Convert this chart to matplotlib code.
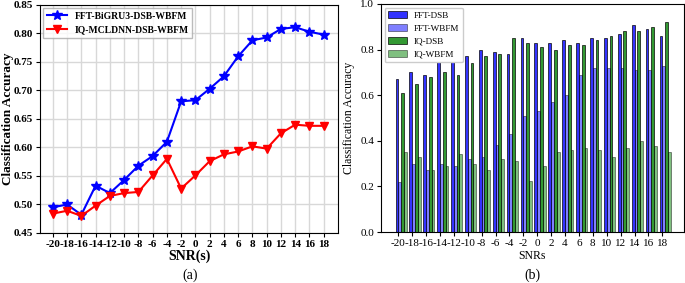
import numpy as np
import matplotlib
matplotlib.use('Agg')
import matplotlib.pyplot as plt

plt.rcParams['font.family'] = ['Liberation Serif', 'DejaVu Serif']

# 데이터
snr = [-20, -18, -16, -14, -12, -10, -8, -6, -4, -2, 0, 2, 4, 6, 8, 10, 12, 14, 16, 18]
snr_labels = [str(s) for s in snr]

fft_bigru = [0.495, 0.500, 0.482, 0.533, 0.520, 0.543, 0.568, 0.585, 0.610, 0.681,
             0.683, 0.703, 0.725, 0.760, 0.788, 0.793, 0.808, 0.811, 0.803, 0.798]
iq_mcldnn = [0.484, 0.489, 0.480, 0.498, 0.515, 0.520, 0.522, 0.551, 0.580, 0.528,
             0.551, 0.576, 0.588, 0.593, 0.602, 0.598, 0.625, 0.640, 0.638, 0.638]

fft_dsb = [0.67, 0.70, 0.69, 0.76, 0.75, 0.77, 0.80, 0.79, 0.78, 0.85,
           0.83, 0.83, 0.84, 0.83, 0.85, 0.85, 0.87, 0.91, 0.89, 0.86]
fft_wbfm = [0.22, 0.30, 0.27, 0.30, 0.29, 0.32, 0.33, 0.38, 0.43, 0.51,
            0.53, 0.57, 0.60, 0.69, 0.72, 0.72, 0.72, 0.71, 0.71, 0.73]
iq_dsb = [0.61, 0.65, 0.68, 0.70, 0.69, 0.74, 0.77, 0.78, 0.85, 0.83,
          0.81, 0.80, 0.82, 0.82, 0.84, 0.86, 0.88, 0.88, 0.90, 0.92]
iq_wbfm = [0.35, 0.33, 0.27, 0.29, 0.34, 0.30, 0.27, 0.32, 0.31, 0.225,
           0.29, 0.35, 0.36, 0.37, 0.36, 0.33, 0.37, 0.40, 0.375, 0.35]

fig = plt.figure(figsize=(6.85, 2.83), dpi=100)

# (a) 선 그래프
ax1 = fig.add_axes([0.0584, 0.1767, 0.435, 0.8057])
ax1.plot(snr, fft_bigru, color='blue', marker='*', markersize=7, linewidth=1.5,
         label='FFT-BiGRU3-DSB-WBFM')
ax1.plot(snr, iq_mcldnn, color='red', marker='v', markersize=6, linewidth=1.5,
         label='IQ-MCLDNN-DSB-WBFM')
ax1.set_xlim(-21.8, 20)
ax1.set_ylim(0.45, 0.85)
ax1.set_xticks(snr)
ax1.set_xticklabels(snr_labels)
ax1.set_yticks(np.arange(0.45, 0.851, 0.05))
ax1.set_yticklabels(['%.2f' % v for v in np.arange(0.45, 0.851, 0.05)])
ax1.grid(True, color='#d8d8d8', linewidth=1)
ax1.set_axisbelow(True)
for lab in ax1.get_xticklabels() + ax1.get_yticklabels():
    lab.set_fontweight('bold')
    lab.set_fontsize(8)
ax1.tick_params(length=3, pad=2)
ax1.set_ylabel('Classification Accuracy', fontsize=9.5, fontweight='bold')
ax1.yaxis.set_label_coords(-0.088, 0.5)
ax1.legend(loc='upper left', prop={'weight': 'bold', 'size': 6.9},
           fancybox=False, edgecolor='#aaaaaa', handlelength=2.1, borderaxespad=0.3)
fig.text(0.277, 0.095, 'SNR(s)', ha='center', va='center', fontsize=10, fontweight='bold')
fig.text(0.277, 0.028, '(a)', ha='center', va='center', fontsize=10)

# (b) 막대 그래프
ax2 = fig.add_axes([0.5562, 0.1802, 0.4423, 0.8057])
x = np.arange(len(snr))
w = 0.2
ax2.bar(x - 0.1, fft_dsb, w, color='blue', alpha=0.8, edgecolor='black', linewidth=0.6, label='FFT-DSB')
ax2.bar(x + 0.1, fft_wbfm, w, color='blue', alpha=0.5, edgecolor='black', linewidth=0.6, label='FFT-WBFM')
ax2.bar(x + 0.3, iq_dsb, w, color='green', alpha=0.8, edgecolor='black', linewidth=0.6, label='IQ-DSB')
ax2.bar(x + 0.5, iq_wbfm, w, color='green', alpha=0.5, edgecolor='black', linewidth=0.6, label='IQ-WBFM')
ax2.set_xlim(-1.25, 20.56)
ax2.set_ylim(0, 1.0)
ax2.set_xticks(x)
ax2.set_xticklabels(snr_labels, fontsize=8)
ax2.set_yticks([0.0, 0.2, 0.4, 0.6, 0.8, 1.0])
ax2.tick_params(labelsize=8, length=3, pad=2)
ax2.set_ylabel('Classification Accuracy', fontsize=8.5)
ax2.legend(loc='upper left', fontsize=6.6, borderaxespad=0.4, framealpha=1)
fig.text(0.777, 0.095, 'SNRs', ha='center', va='center', fontsize=8.5)
fig.text(0.777, 0.028, '(b)', ha='center', va='center', fontsize=10)

plt.savefig('out.png', dpi=100)
